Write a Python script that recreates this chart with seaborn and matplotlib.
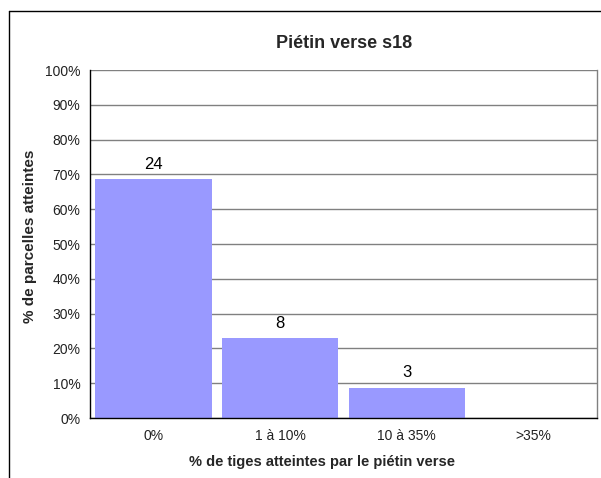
import matplotlib
matplotlib.use("Agg")
import matplotlib.pyplot as plt
import seaborn as sns
import numpy as np
import pandas as pd
from matplotlib.lines import Line2D
from matplotlib.ticker import PercentFormatter, FixedLocator

categories = ["0%", "1 à 10%", "10 à 35%", ">35%"]
pct_values = [68.6, 22.9, 8.6, 0.0]
counts = [24, 8, 3, None]

sns.set_theme(style="white")
plt.rcParams["font.family"] = ["Liberation Sans", "DejaVu Sans"]

df = pd.DataFrame({"cat": categories, "pct": pct_values})

fig = plt.figure(figsize=(6.01, 4.78), dpi=100)
ax = fig.add_axes([0.150, 0.1255, 0.843, 0.728])

sns.barplot(data=df, x="cat", y="pct", color="#9999FF", saturation=1,
            width=0.92, ax=ax, edgecolor="none")

# data labels
for i, (v, c) in enumerate(zip(pct_values, counts)):
    if c is not None:
        ax.text(i, v + 2.2, str(c), ha="center", va="bottom", fontsize=12, color="black")

ax.set_ylim(0, 100)
ax.set_xlim(-0.5, 3.5)
ax.set_yticks(np.arange(0, 101, 10))
ax.yaxis.set_major_formatter(PercentFormatter(decimals=0))
ax.yaxis.grid(True, color="#808080", linewidth=1)
ax.set_axisbelow(True)

# x ticks at category boundaries
ax.xaxis.set_minor_locator(FixedLocator(np.arange(-0.5, 4, 1)))
ax.tick_params(axis="x", which="major", length=0, pad=8, labelsize=10, colors="black")
ax.tick_params(axis="x", which="minor", length=5, width=1, color="black", direction="out")
ax.tick_params(axis="y", which="major", length=4, width=1, color="black", direction="out",
               labelsize=10, labelcolor="black", pad=3)
for lbl in ax.get_xticklabels() + ax.get_yticklabels():
    lbl.set_color("#222222")

ax.spines["top"].set_visible(False)
ax.spines["right"].set_color("#808080")
ax.spines["left"].set_color("black")
ax.spines["bottom"].set_color("black")
for s in ax.spines.values():
    s.set_linewidth(1)

ax.set_xlabel("% de tiges atteintes par le piétin verse", fontsize=10.5, fontweight="bold")
ax.set_ylabel("% de parcelles atteintes", fontsize=11, fontweight="bold")
ax.xaxis.set_label_coords(0.458, -0.126)
ax.yaxis.set_label_coords(-0.118, 0.523)
ax.xaxis.label.set_va("center")
ax.yaxis.label.set_va("center")
fig.text(0.573, 0.908, "Piétin verse s18", ha="center", va="center", fontsize=13, fontweight="bold")

# outer chart frame (top and left edges visible)
fig.add_artist(Line2D([9 / 601, 1.0], [1 - 11 / 478, 1 - 11 / 478], transform=fig.transFigure,
                      color="black", linewidth=1))
fig.add_artist(Line2D([9 / 601, 9 / 601], [0.0, 1 - 11 / 478], transform=fig.transFigure,
                      color="black", linewidth=1))

fig.savefig("out.png", dpi=100)
